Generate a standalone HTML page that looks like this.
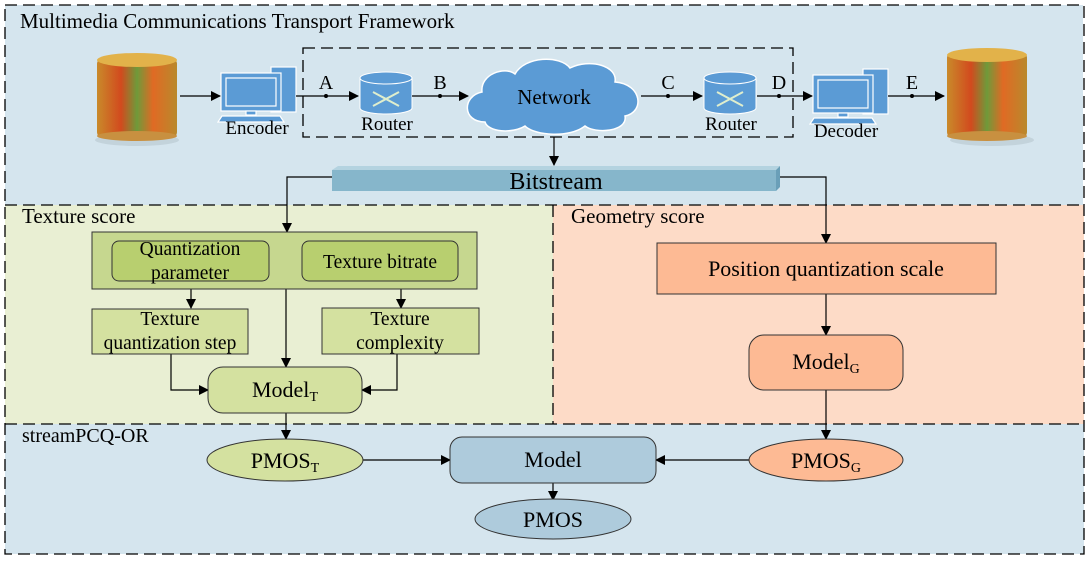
<!DOCTYPE html>
<html><head><meta charset="utf-8"><style>body{margin:0;background:#fff}svg{display:block}text{font-family:"Liberation Serif",serif;fill:#000}</style></head>
<body>
<svg width="1091" height="561" viewBox="0 0 1091 561" xmlns="http://www.w3.org/2000/svg">
<defs>
<marker id="ah" markerWidth="10" markerHeight="10" refX="9" refY="5" orient="auto" markerUnits="userSpaceOnUse"><path d="M0,0 L10,5 L0,10 z" fill="#000"/></marker>
<linearGradient id="vase" x1="0" x2="1"><stop offset="0" stop-color="#c98a2a"/><stop offset=".3" stop-color="#d24a1e"/><stop offset=".5" stop-color="#6f9a3a"/><stop offset=".7" stop-color="#e06a24"/><stop offset="1" stop-color="#b9892c"/></linearGradient>
</defs>
<rect x="5" y="5" width="1078" height="200" fill="#d5e5ee"/>
<rect x="5" y="205" width="548" height="219" fill="#e9efd3"/>
<rect x="553" y="205" width="531" height="219" fill="#fddbc7"/>
<rect x="5" y="424" width="1079" height="130" fill="#d5e5ee"/>
<g fill="none" stroke="#000" stroke-width="1.3" stroke-dasharray="12,6">
<rect x="5" y="5" width="1079" height="549"/>
<line x1="5" y1="205" x2="1084" y2="205"/>
<line x1="5" y1="424" x2="1084" y2="424"/>
<line x1="553" y1="205" x2="553" y2="424"/>
<rect x="303" y="48" width="490" height="89"/>
</g>
<text x="20" y="28" font-size="21">Multimedia Communications Transport Framework</text>
<g><ellipse cx="137" cy="140" rx="42" ry="6" fill="#b7c7cf" opacity=".6"/><rect x="97" y="58" width="80" height="80" rx="6" fill="url(#vase)"/><ellipse cx="137" cy="60" rx="40" ry="7" fill="#e2b24a"/><ellipse cx="137" cy="136" rx="40" ry="5" fill="#c89040"/></g>
<g><ellipse cx="992" cy="140" rx="42" ry="6" fill="#b7c7cf" opacity=".6"/><rect x="947" y="52" width="80" height="86" rx="6" fill="url(#vase)"/><ellipse cx="987" cy="55" rx="40" ry="7" fill="#e2b24a"/><ellipse cx="987" cy="136" rx="40" ry="5" fill="#c89040"/></g>
<g id="pc" fill="#5b9bd5" stroke="#fff" stroke-width="1.2"><rect x="271" y="67" width="25" height="45"/><rect x="221" y="73" width="60" height="38"/><rect x="226" y="78" width="50" height="28" fill="#5b9bd5"/><rect x="246" y="111" width="10" height="4"/><path d="M222,116 h58 l4,6 h-66 z"/></g>
<use href="#pc" x="592" y="2"/>
<text x="257" y="134" font-size="19" text-anchor="middle">Encoder</text>
<text x="846" y="137" font-size="19" text-anchor="middle">Decoder</text>
<g id="rt"><path d="M360,78 v30 a26,6 0 0 0 52,0 v-30 z" fill="#5b9bd5" stroke="#fff"/><ellipse cx="386" cy="78" rx="26" ry="6" fill="#5b9bd5" stroke="#fff"/><path d="M373,92 L399,106 M373,106 L399,92" stroke="#dfeecd" stroke-width="2"/></g>
<use href="#rt" x="344" y="0"/>
<text x="387" y="130" font-size="19" text-anchor="middle">Router</text>
<text x="731" y="130" font-size="19" text-anchor="middle">Router</text>
<path d="M485,122 C462,122 462,96 482,92 C480,74 505,66 515,74 C525,56 560,55 570,68 C590,58 618,66 615,82 C642,84 645,112 625,116 C628,132 595,134 585,126 C570,138 535,136 525,126 C512,134 488,132 485,122 z" fill="#5b9bd5" stroke="#fff" stroke-width="1.5"/>
<text x="554" y="104" font-size="21" text-anchor="middle">Network</text>
<g stroke="#000" stroke-width="1.2" fill="none" marker-end="url(#ah)">
<line x1="180" y1="96" x2="220" y2="96"/>
<line x1="296" y1="96" x2="358" y2="96"/>
<line x1="412" y1="96" x2="468" y2="96"/>
<line x1="641" y1="96" x2="702" y2="96"/>
<line x1="757" y1="96" x2="812" y2="96"/>
<line x1="888" y1="96" x2="944" y2="96"/>
<line x1="554" y1="137" x2="554" y2="165"/>
<polyline points="332,177 287,177 287,232"/>
<polyline points="780,177 826,177 826,243"/>
<line x1="191" y1="289" x2="191" y2="308"/>
<line x1="401" y1="289" x2="401" y2="308"/>
<line x1="286" y1="289" x2="286" y2="367"/>
<polyline points="171,354 171,390 208,390"/>
<polyline points="397,354 397,390 362,390"/>
<line x1="286" y1="413" x2="286" y2="439"/>
<line x1="826" y1="294" x2="826" y2="335"/>
<line x1="826" y1="390" x2="826" y2="439"/>
<line x1="363" y1="460" x2="450" y2="460"/>
<line x1="749" y1="460" x2="656" y2="460"/>
<line x1="553" y1="483" x2="553" y2="500"/>
</g>
<g fill="#000"><circle cx="326" cy="96" r="2"/><circle cx="440" cy="96" r="2"/><circle cx="668" cy="96" r="2"/><circle cx="779" cy="96" r="2"/><circle cx="912" cy="96" r="2"/></g>
<g font-size="20" text-anchor="middle"><text x="326" y="89">A</text><text x="440" y="89">B</text><text x="668" y="89">C</text><text x="779" y="89">D</text><text x="912" y="89">E</text></g>
<path d="M332,170 L776,170 L780,166 L338,166 z" fill="#b4d3e0"/>
<rect x="332" y="170" width="444" height="21" fill="#86b6cb"/>
<path d="M776,170 L780,166 L780,187 L776,191 z" fill="#6a9fb8"/>
<text x="556" y="189" font-size="24" text-anchor="middle">Bitstream</text>
<text x="22" y="223" font-size="21">Texture score</text>
<text x="571" y="223" font-size="21">Geometry score</text>
<text x="22" y="442" font-size="20">streamPCQ-OR</text>
<g stroke="#333" stroke-width="1">
<rect x="92" y="232" width="385" height="57" fill="#c6d78f"/>
<rect x="112" y="241" width="157" height="40" rx="7" fill="#b8cf6f"/>
<rect x="302" y="241" width="156" height="40" rx="7" fill="#b8cf6f"/>
<rect x="92" y="309" width="156" height="45" fill="#d4e1a0"/>
<rect x="322" y="308" width="157" height="46" fill="#d4e1a0"/>
<rect x="208" y="367" width="154" height="46" rx="15" fill="#d4e1a0"/>
<rect x="657" y="243" width="339" height="51" fill="#fdba94"/>
<rect x="749" y="335" width="154" height="55" rx="15" fill="#fdba94"/>
<ellipse cx="285" cy="460" rx="78" ry="21" fill="#d4e1a0"/>
<rect x="450" y="437" width="206" height="46" rx="12" fill="#aecbdc"/>
<ellipse cx="826" cy="460" rx="77" ry="21" fill="#fdba94"/>
<ellipse cx="553" cy="519" rx="78" ry="20" fill="#aecbdc"/>
</g>
<g font-size="19.5" text-anchor="middle">
<text x="190" y="255">Quantization</text><text x="190" y="279">parameter</text>
<text x="380" y="268">Texture bitrate</text>
<text x="170" y="325">Texture</text><text x="170" y="349">quantization step</text>
<text x="400" y="325">Texture</text><text x="400" y="349">complexity</text>
<text x="285" y="397" font-size="22">Model<tspan font-size="14" dy="4">T</tspan></text>
<text x="826" y="276" font-size="22">Position quantization scale</text>
<text x="826" y="369" font-size="22">Model<tspan font-size="14" dy="4">G</tspan></text>
<text x="285" y="468" font-size="22">PMOS<tspan font-size="14" dy="4">T</tspan></text>
<text x="553" y="467" font-size="22">Model</text>
<text x="826" y="468" font-size="22">PMOS<tspan font-size="14" dy="4">G</tspan></text>
<text x="553" y="527" font-size="22">PMOS</text>
</g>
</svg>
</body></html>
